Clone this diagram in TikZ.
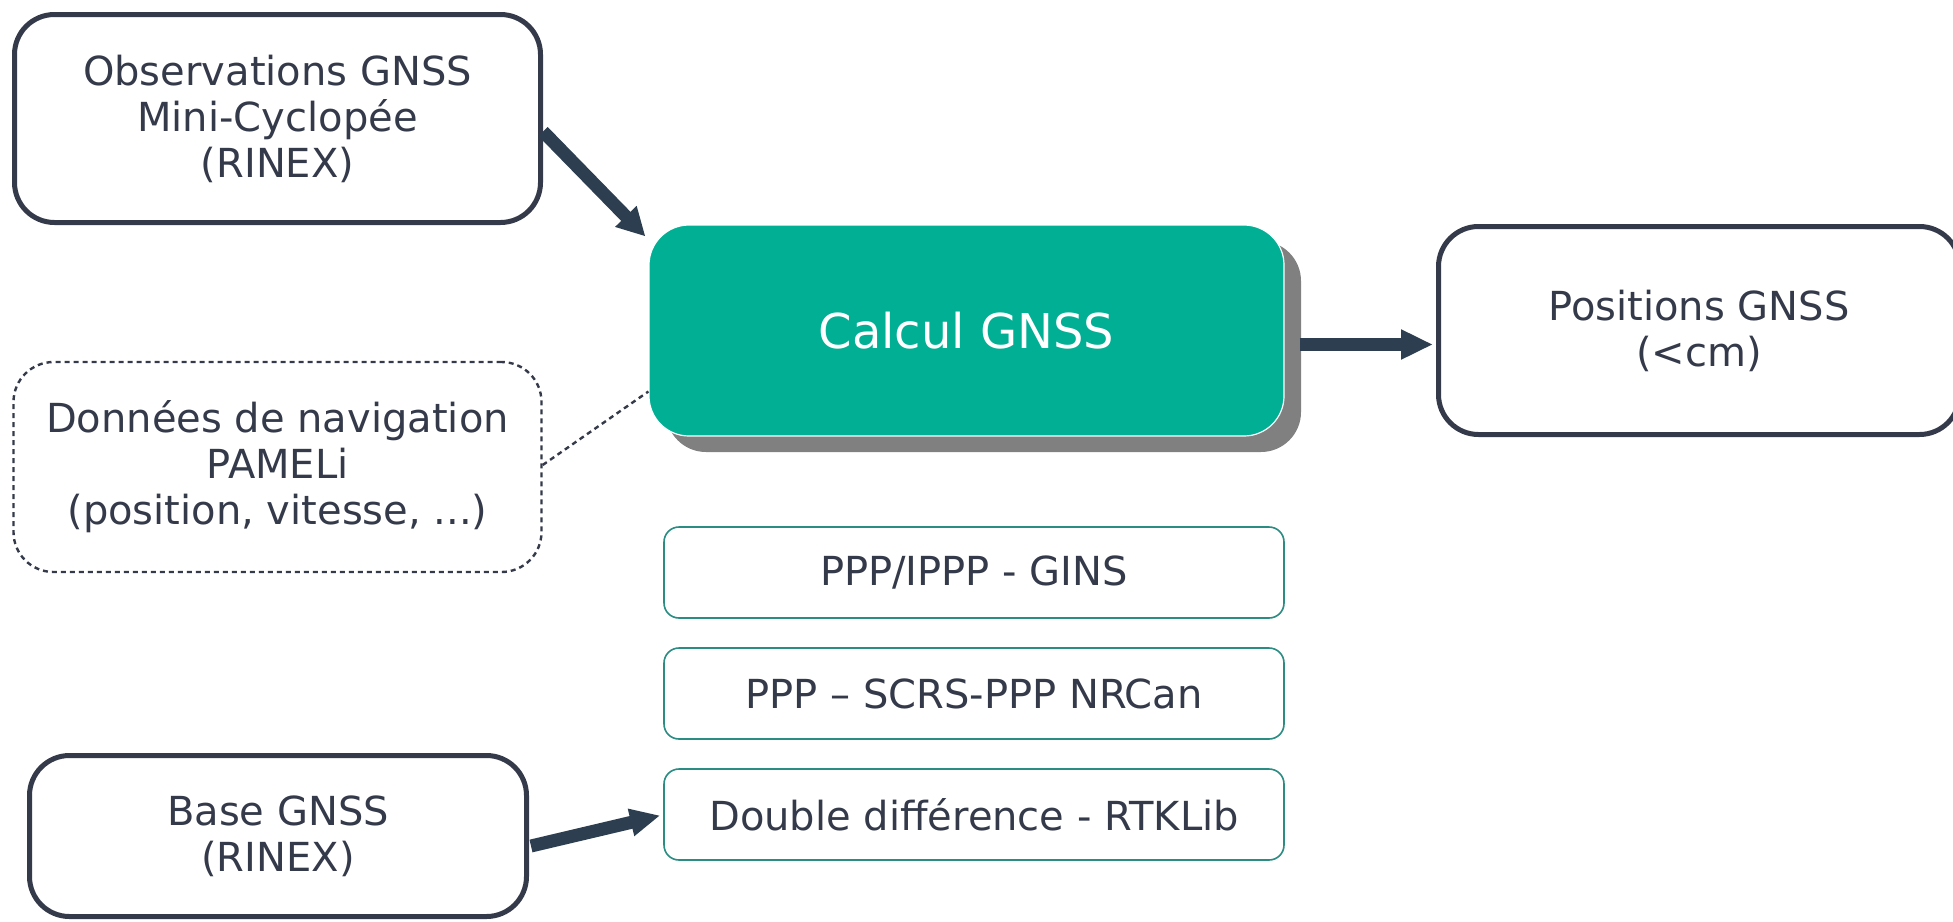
\documentclass[tikz,border=0pt]{standalone}
\usepackage{fontspec}
\setmainfont{DejaVu Sans}
\usetikzlibrary{arrows.meta,calc,shadows}
\definecolor{darkline}{HTML}{343A4A}
\definecolor{textc}{HTML}{343A4A}
\definecolor{arrowc}{HTML}{2C3E50}
\definecolor{tealf}{HTML}{00AF94}
\definecolor{tealb}{HTML}{2A8C82}
\definecolor{shadowc}{HTML}{808080}
\begin{document}
\begin{tikzpicture}[x=0.5pt,y=-0.5pt,
  inbox/.style={draw=darkline,line width=2.5pt,rounded corners=20pt,fill=white,text=textc,align=center,
    font=\fontsize{20pt}{23pt}\selectfont,inner sep=0pt},
  navbox/.style={draw=darkline,line width=1.2pt,dash pattern=on 2.5pt off 2pt,rounded corners=20pt,fill=white,
    text=textc,align=center,font=\fontsize{20pt}{23pt}\selectfont,inner sep=0pt},
  calcbox/.style={fill=tealf,draw=white,line width=0.6pt,rounded corners=20pt,text=white,align=center,
    font=\fontsize{24pt}{28pt}\selectfont,inner sep=0pt,
    drop shadow={shadow xshift=8.5pt,shadow yshift=-8pt,fill=shadowc,opacity=1}},
  methbox/.style={draw=tealb,line width=0.8pt,rounded corners=7.5pt,fill=white,text=textc,align=center,
    font=\fontsize{20pt}{23pt}\selectfont,inner sep=0pt,minimum width=310pt,minimum height=45.5pt},
  thickarrow/.style={draw=arrowc,line width=6.5pt},
  dotlink/.style={draw=darkline,line width=1.2pt,dash pattern=on 2.5pt off 2pt}
]
\useasboundingbox (0,0) rectangle (1953,921);

\node[inbox,minimum width=263pt,minimum height=104pt] (obs) at (277.5,118.5)
  {Observations GNSS\\Mini-Cyclopée\\(RINEX)};
\node[calcbox,minimum width=317.5pt,minimum height=105.5pt] (calc) at (966.5,330.5) {Calcul GNSS};
\node[inbox,minimum width=260.5pt,minimum height=104pt] (pos) at (1699,330.5)
  {Positions GNSS\\(<cm)};
\node[navbox,minimum width=264pt,minimum height=105pt] (nav) at (277.5,467)
  {Données de navigation\\PAMELi\\ (position, vitesse, ...)};
\node[methbox] (m1) at (974,572.5) {PPP/IPPP - GINS};
\node[methbox] (m2) at (974,693.5) {PPP – SCRS-PPP NRCan};
\node[methbox] (m3) at (974,814.5) {Double différence - RTKLib};
\node[inbox,minimum width=248.5pt,minimum height=80.5pt] (base) at (278,836)
  {Base GNSS\\(RINEX)};

\draw[thickarrow,-{Triangle[length=14pt,width=14pt]}] ($(obs.east)+(0,13)$) -- ($(calc.north west)+(-3,12)$);
\draw[draw=arrowc,line width=6.5pt,-{Triangle[length=16pt,width=14pt]}] ($(calc.east)+(15,14)$) -- ($(pos.west)+(-3,14)$);
\draw[thickarrow,-{Triangle[length=15pt,width=13pt]}] ($(base.east)+(2,10)$) -- ($(m3.west)+(-3,1)$);
\draw[dotlink] ($(nav.east)+(0,-2)$) -- ($(calc.west)+(0,61)$);
\end{tikzpicture}
\end{document}
